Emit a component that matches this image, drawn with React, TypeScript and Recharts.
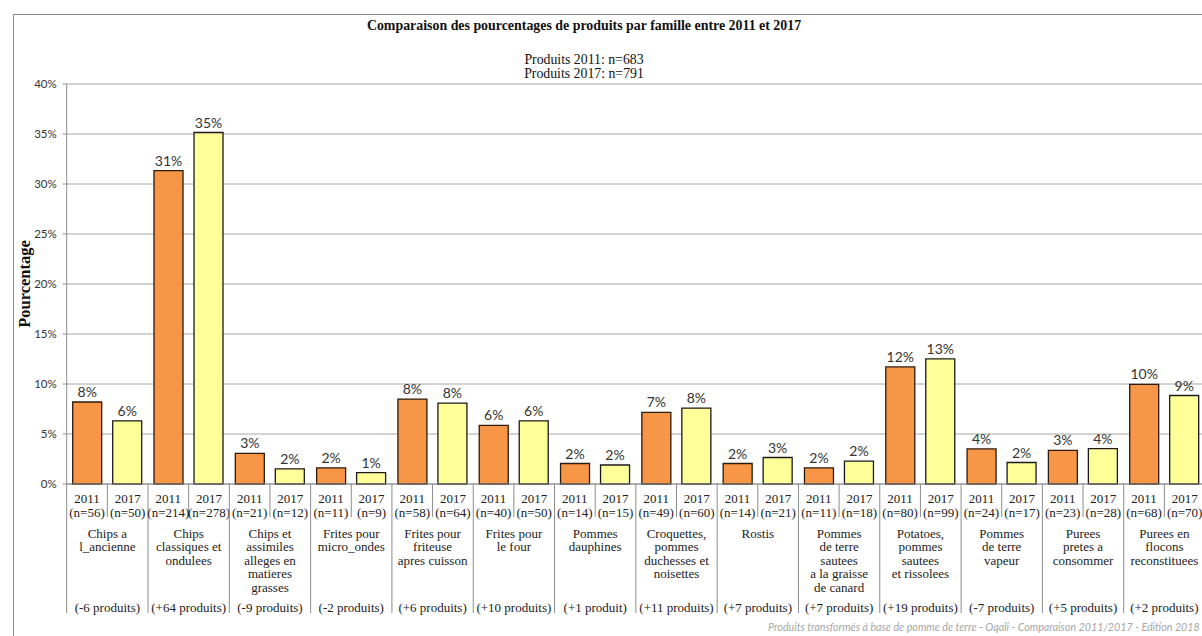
import React from 'react'
import { BarChart, Bar, XAxis, YAxis, CartesianGrid, LabelList } from 'recharts'

// families, one label line per entry
const FAMILIES = [
  ['Chips a', 'l_ancienne'],
  ['Chips', 'classiques et', 'ondulees'],
  ['Chips et', 'assimiles', 'alleges en', 'matieres', 'grasses'],
  ['Frites pour', 'micro_ondes'],
  ['Frites pour', 'friteuse', 'apres cuisson'],
  ['Frites pour', 'le four'],
  ['Pommes', 'dauphines'],
  ['Croquettes,', 'pommes', 'duchesses et', 'noisettes'],
  ['Rostis'],
  ['Pommes', 'de terre', 'sautees', 'a la graisse', 'de canard'],
  ['Potatoes,', 'pommes', 'sautees', 'et rissolees'],
  ['Pommes', 'de terre', 'vapeur'],
  ['Purees', 'pretes a', 'consommer'],
  ['Purees en', 'flocons', 'reconstituees'],
]

const N_2011 = [56, 214, 21, 11, 58, 40, 14, 49, 14, 11, 80, 24, 23, 68]
const N_2017 = [50, 278, 12, 9, 64, 50, 15, 60, 21, 18, 99, 17, 28, 70]

const PCT_2011 = [8.2, 31.33, 3.07, 1.61, 8.49, 5.86, 2.05, 7.17, 2.05, 1.61, 11.71, 3.51, 3.37, 9.96]
const PCT_2017 = [6.32, 35.15, 1.52, 1.14, 8.09, 6.32, 1.9, 7.59, 2.65, 2.28, 12.52, 2.15, 3.54, 8.85]

const DIFFS = ['(-6 produits)', '(+64 produits)', '(-9 produits)', '(-2 produits)', '(+6 produits)', '(+10 produits)', '(+1 produit)', '(+11 produits)', '(+7 produits)', '(+7 produits)', '(+19 produits)', '(-7 produits)', '(+5 produits)', '(+2 produits)']

const Y_TICKS = [0, 5, 10, 15, 20, 25, 30, 35, 40]

const SERIF = '"Liberation Serif", "DejaVu Serif", serif'
const SANS = 'Lato, "Open Sans", sans-serif'
const LINE = '#8c8c8c'

const data = FAMILIES.map((f, i) => ({
  name: f.join(' '),
  v2011: PCT_2011[i],
  v2017: PCT_2017[i],
}))

const FamilyTick = (props: any) => {
  const { x, y, payload } = props
  const i = payload.index
  const bw = props.width ? props.width / FAMILIES.length : payload.offset * 2
  const left = x - bw / 2
  const txt = { fontFamily: SERIF, fontSize: 13, fill: '#222', textAnchor: 'middle' as const }
  return (
    <g>
      <line x1={left} x2={left} y1={y} y2={y + 129} stroke={LINE} />
      {i === FAMILIES.length - 1 && <line x1={left + bw} x2={left + bw} y1={y} y2={y + 129} stroke={LINE} />}
      <line x1={x} x2={x} y1={y} y2={y + 33} stroke={LINE} />
      <text {...txt} x={x - bw / 4} y={y + 19}>2011</text>
      <text {...txt} x={x - bw / 4} y={y + 33}>{`(n=${N_2011[i]})`}</text>
      <text {...txt} x={x + bw / 4} y={y + 19}>2017</text>
      <text {...txt} x={x + bw / 4} y={y + 33}>{`(n=${N_2017[i]})`}</text>
      {FAMILIES[i].map((line, k) => (
        <text key={k} {...txt} x={x} y={y + 54 + k * 13.4}>{line}</text>
      ))}
      <text {...txt} x={x} y={y + 128}>{DIFFS[i]}</text>
    </g>
  )
}

const pctLabel = (v: any) => `${Math.round(Number(v))}%`

export default function App() {
  return (
    <div style={{ position: 'absolute', left: 0, top: 0, width: 1202, height: 636, overflow: 'hidden', background: '#fff' }}>
      <div style={{ position: 'absolute', left: 13, top: 14, width: 1400, height: 800, border: '1px solid #8c8c8c' }} />
      <div style={{ position: 'absolute', left: 0, width: 1168, top: 18, textAlign: 'center', fontFamily: SERIF, fontWeight: 'bold', fontSize: 13.9, color: '#111' }}>
        Comparaison des pourcentages de produits par famille entre 2011 et 2017
      </div>
      <div style={{ position: 'absolute', left: 0, width: 1168, top: 53, textAlign: 'center', fontFamily: SERIF, fontSize: 13.8, lineHeight: '14px', color: '#111' }}>
        Produits 2011: n=683<br />Produits 2017: n=791
      </div>
      <div style={{ position: 'absolute', left: 0, top: 0 }}>
        <BarChart width={1215} height={636} data={data} margin={{ top: 84, right: 10, bottom: 22, left: 0 }} barCategoryGap={6} barGap={11}>
          <CartesianGrid horizontal vertical={false} stroke="#a6a6a6" />
          <XAxis dataKey="name" interval={0} height={130} tickSize={0} tickMargin={0} tickLine={false} axisLine={{ stroke: LINE }} tick={<FamilyTick />} />
          <YAxis
            width={66.7}
            domain={[0, 40]}
            ticks={Y_TICKS}
            tickFormatter={(v) => `${v}%`}
            tickSize={4}
            tickMargin={6}
            axisLine={{ stroke: LINE }}
            tickLine={{ stroke: LINE }}
            tick={{ fontFamily: SANS, fontSize: 11.5, fill: '#333' }}
            label={{ value: 'Pourcentage', angle: -90, position: 'insideLeft', dx: 19, dy: 0, style: { fontFamily: SERIF, fontWeight: 'bold', fontSize: 16.5, fill: '#111', textAnchor: 'middle' } }}
          />
          <Bar dataKey="v2011" fill="#F79646" stroke="#2b1a0e" strokeWidth={1.3} isAnimationActive={false}>
            <LabelList dataKey="v2011" position="top" offset={5} formatter={pctLabel} style={{ fontFamily: SANS, fontSize: 14, fill: '#333' }} />
          </Bar>
          <Bar dataKey="v2017" fill="#FFFF99" stroke="#1a1a1a" strokeWidth={1.3} isAnimationActive={false}>
            <LabelList dataKey="v2017" position="top" offset={5} formatter={pctLabel} style={{ fontFamily: SANS, fontSize: 14, fill: '#333' }} />
          </Bar>
        </BarChart>
      </div>
      <div style={{ position: 'absolute', left: 768, top: 620, whiteSpace: 'nowrap', fontFamily: SANS, fontStyle: 'italic', fontSize: 10.7, color: '#a6a6a6' }}>
        Produits transformés à base de pomme de terre - Oqali - Comparaison 2011/2017 - Edition 2018
      </div>
    </div>
  )
}
